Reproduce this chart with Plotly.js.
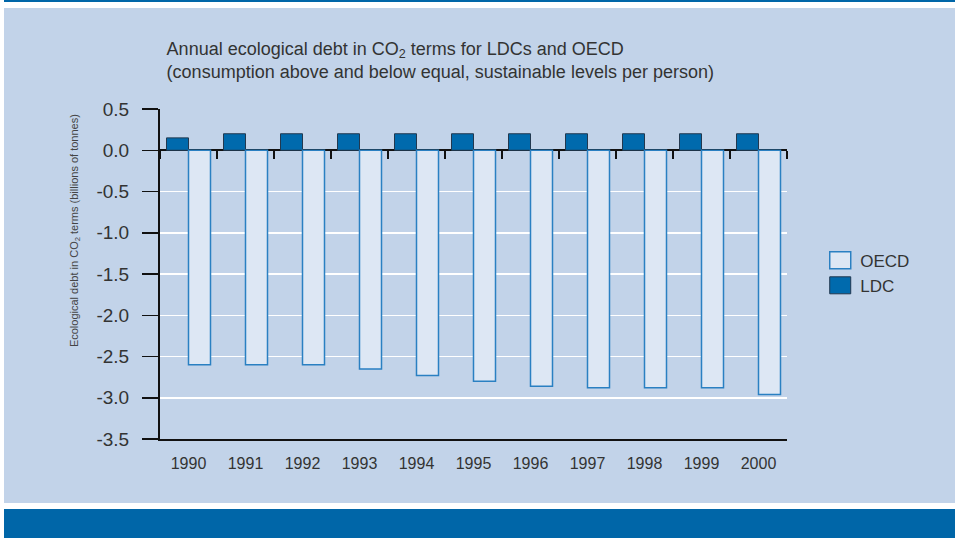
<!DOCTYPE html>
<html><head><meta charset="utf-8">
<script src="https://cdn.plot.ly/plotly-3.0.1.min.js"></script>
<style>
html,body{margin:0;padding:0;background:#fff;width:955px;height:538px;overflow:hidden;}
#top{position:absolute;left:4px;top:0;width:951px;height:2px;background:#0066a8;}
#chart{position:absolute;left:4px;top:8px;width:951px;height:495px;}
#bottom{position:absolute;left:4px;top:509px;width:951px;height:29px;background:#0066a8;}
</style></head><body>
<div id="top"></div><div id="chart"></div><div id="bottom"></div>
<script>
const years = ['1990','1991','1992','1993','1994','1995','1996','1997','1998','1999','2000'];
const ldc = [0.15,0.2,0.2,0.2,0.2,0.2,0.2,0.2,0.2,0.2,0.2];
const oecd = [-2.6,-2.6,-2.6,-2.65,-2.73,-2.8,-2.86,-2.88,-2.88,-2.88,-2.96];
const yTickVals = [0.5,0,-0.5,-1,-1.5,-2,-2.5,-3,-3.5];
const yTickText = ['0.5','0.0','-0.5','-1.0','-1.5','-2.0','-2.5','-3.0','-3.5'];

const FONT = 'Liberation Sans, Arial, Helvetica, sans-serif';
const BG = '#c2d3e9';

const traces = [
  {type:'bar', name:'LDC', x:years, y:ldc,
   marker:{color:'#006aad', line:{color:'#22384f', width:1}}, hoverinfo:'skip'},
  {type:'bar', name:'OECD', x:years, y:oecd,
   marker:{color:'#dde7f4', line:{color:'#2a80c2', width:1.5}}, hoverinfo:'skip'},
  {type:'scatter', mode:'markers', x:years, y:ldc, xaxis:'x2', yaxis:'y',
   marker:{opacity:0}, showlegend:false, hoverinfo:'skip'}
];

const layout = {
  width:951, height:495,
  paper_bgcolor:BG, plot_bgcolor:BG,
  margin:{l:156, r:168, t:101, b:64},
  font:{family:FONT, color:'#333'},
  title:{text:'Annual ecological debt in CO<sub>2</sub> terms for LDCs and OECD<br>(consumption above and below equal, sustainable levels per person)',
    xref:'container', yref:'container', x:0.171, xanchor:'left', y:0.906, yanchor:'middle',
    font:{family:FONT, size:18, color:'#333'}},
  barmode:'group', bargap:0.228, bargroupgap:0,
  showlegend:true,
  legend:{traceorder:'reversed', x:1.053, xanchor:'left', y:0.595, yanchor:'top',
    bgcolor:'rgba(0,0,0,0)', font:{family:FONT, size:17, color:'#333'}},
  xaxis:{type:'category', categoryorder:'array', categoryarray:years, range:[-0.5,10.5],
    showline:true, linecolor:'#111', linewidth:2, showgrid:false, zeroline:false,
    ticks:'', ticklabelstandoff:9, tickfont:{family:FONT, size:16, color:'#333'}},
  xaxis2:{type:'category', categoryorder:'array', categoryarray:years, range:[-0.5,10.5],
    overlaying:'x', anchor:'free', position:0.875, side:'bottom',
    showline:false, showgrid:false, zeroline:false, showticklabels:false,
    ticks:'outside', tickson:'boundaries', ticklen:8, tickwidth:1.5, tickcolor:'#111'},
  yaxis:{range:[-3.5,0.5], tickvals:yTickVals, ticktext:yTickText,
    showline:true, linecolor:'#111', linewidth:2,
    showgrid:true, gridcolor:'#ffffff', gridwidth:1.5,
    zeroline:true, zerolinecolor:'#111', zerolinewidth:2,
    ticks:'outside', ticklen:16, tickwidth:1.5, tickcolor:'#111', ticklabelstandoff:9,
    tickfont:{family:FONT, size:19, color:'#333'}},
  annotations:[{text:'Ecological debt in CO<sub>2</sub> terms (billions of tonnes)',
    xref:'paper', yref:'paper', x:-0.1356, y:0.633, xanchor:'center', yanchor:'middle',
    textangle:-90, showarrow:false, font:{family:FONT, size:11, color:'#444'}}]
};

Plotly.newPlot('chart', traces, layout, {displayModeBar:false, staticPlot:true}).then(gd => {
  gd.querySelectorAll('.legend .legendpoints path').forEach(p => {
    p.setAttribute('d','M10.5,8.5H-10.5V-8.5H10.5Z');
  });
});
</script>
</body></html>
